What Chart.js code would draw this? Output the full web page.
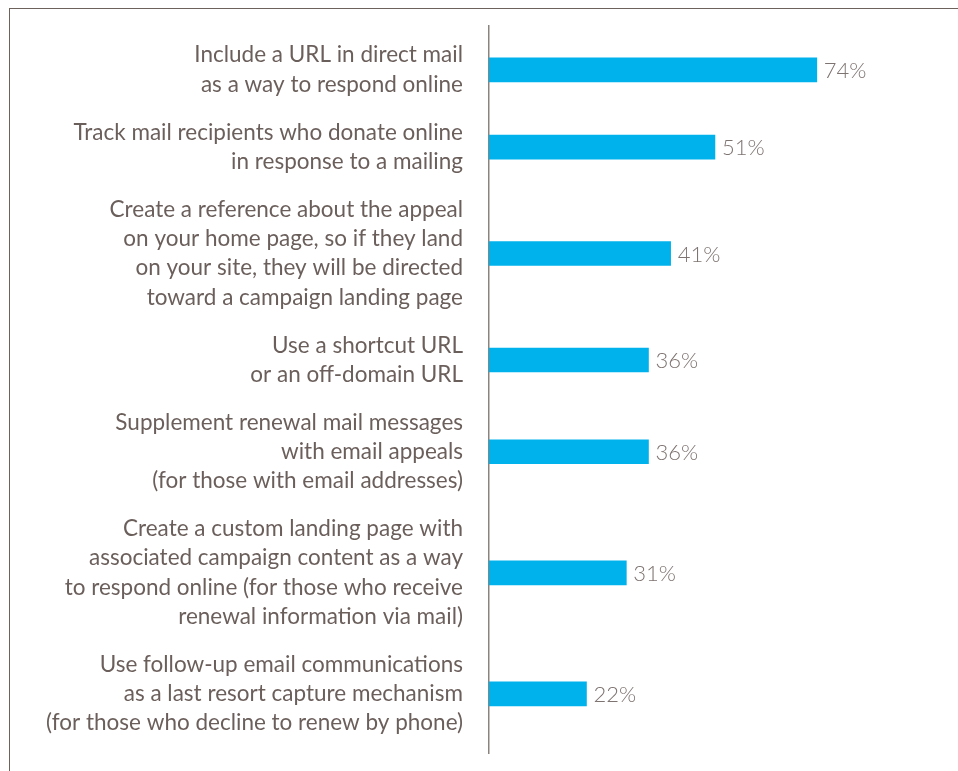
<!DOCTYPE html>
<html lang="en">
<head>
    <meta charset="UTF-8">
    <title>Online response tactics</title>
    <script src="https://cdn.jsdelivr.net/npm/chart.js"></script>
    <style>
        html, body { margin: 0; padding: 0; background: #fff; }
        .frame {
            position: relative;
            width: 958px;
            height: 771px;
            overflow: hidden;
        }
        /* thin rule along the top and left edge */
        .frame::before {
            content: '';
            position: absolute;
            left: 9px;
            top: 8px;
            right: 0;
            bottom: 0;
            border-top: 1.5px solid #6e625d;
            border-left: 1.5px solid #6e625d;
            pointer-events: none;
        }
        canvas { display: block; }
    </style>
</head>
<body>
    <div class="frame">
        <canvas id="tacticsChart" width="958" height="771"></canvas>
    </div>

    <script>
        // Category labels, one array of lines per bar
        const categories = [
            ['Include a URL in direct mail', 'as a way to respond online'],
            ['Track mail recipients who donate online', 'in response to a mailing'],
            ['Create a reference about the appeal', 'on your home page, so if they land', 'on your site, they will be directed', 'toward a campaign landing page'],
            ['Use a shortcut URL', 'or an off-domain URL'],
            ['Supplement renewal mail messages', 'with email appeals', '(for those with email addresses)'],
            ['Create a custom landing page with', 'associated campaign content as a way', 'to respond online (for those who receive', 'renewal information via mail)'],
            ['Use follow-up email communications', 'as a last resort capture mechanism', '(for those who decline to renew by phone)']
        ];

        // Share of respondents (%)
        const shares = [74, 51, 41, 36, 36, 31, 22];

        const TEXT_COLOR = '#6b5f5b';
        const BAR_COLOR = '#00b2ec';

        // Rows are spaced by how many lines their label takes (units = text lines)
        const ROW_GAP = 0.64;
        const rowCenters = [];
        let cursor = 1;
        categories.forEach(lines => {
            rowCenters.push(cursor + (lines.length - 1) / 2);
            cursor += lines.length + ROW_GAP;
        });
        const yMax = cursor - (1 + ROW_GAP) + 1.02;

        // Percentage printed just past the end of each bar
        const valueLabelPlugin = {
            id: 'valueLabels',
            afterDatasetsDraw(chart) {
                const ctx = chart.ctx;
                const meta = chart.getDatasetMeta(0);
                ctx.save();
                ctx.font = '300 22px Lato, sans-serif';
                ctx.fillStyle = '#7d7370';
                ctx.textAlign = 'left';
                ctx.textBaseline = 'middle';
                meta.data.forEach((bar, i) => {
                    ctx.fillText(shares[i] + '%', bar.x + 7, bar.y + 1);
                });
                ctx.restore();
            }
        };

        const ctx = document.getElementById('tacticsChart').getContext('2d');
        new Chart(ctx, {
            type: 'bar',
            data: {
                datasets: [{
                    data: shares.map((v, i) => ({ x: v, y: rowCenters[i] })),
                    backgroundColor: BAR_COLOR,
                    borderWidth: 0,
                    barThickness: 24
                }]
            },
            options: {
                indexAxis: 'y',
                responsive: false,
                animation: false,
                layout: {
                    padding: { top: 26, bottom: 18, right: 26, left: 0 }
                },
                plugins: {
                    legend: { display: false },
                    tooltip: { enabled: false }
                },
                scales: {
                    x: {
                        type: 'linear',
                        display: false,
                        min: 0,
                        max: 100
                    },
                    y: {
                        type: 'linear',
                        reverse: true,
                        offset: false,
                        min: 0,
                        max: yMax,
                        grid: { display: false, drawTicks: false },
                        border: { display: true, color: '#8c8380', width: 1.5 },
                        afterBuildTicks(scale) {
                            scale.ticks = rowCenters.map(v => ({ value: v }));
                        },
                        afterFit(scale) {
                            // fixed label column; labels stay inside the plot height
                            scale.width = 489;
                            scale.paddingTop = 0;
                            scale.paddingBottom = 0;
                        },
                        ticks: {
                            autoSkip: false,
                            padding: 26,
                            color: TEXT_COLOR,
                            font: { family: 'Lato', size: 22.5, lineHeight: 1.302 },
                            callback: (value, index) => categories[index]
                        }
                    }
                }
            },
            plugins: [valueLabelPlugin]
        });
    </script>
</body>
</html>
